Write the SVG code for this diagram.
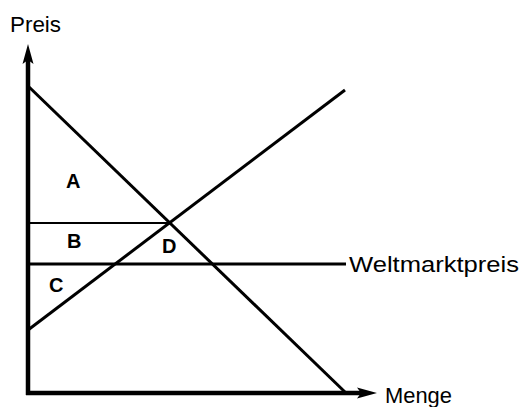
<svg xmlns="http://www.w3.org/2000/svg" width="521" height="407" viewBox="0 0 521 407">
<style>
.lbl{font-family:"Liberation Sans",Arial,sans-serif;font-size:22px;fill:#000}
.reg{font-family:"Liberation Sans",Arial,sans-serif;font-size:20px;font-weight:bold;fill:#000}
.ax{stroke:#000;stroke-width:4.5;fill:none}
.ln{stroke:#000;stroke-width:3;fill:none}
.ah{fill:#000}
</style>
<rect width="521" height="407" fill="#fff"/>
<g id="connectors">
<line class="ax" x1="28" y1="395" x2="28" y2="58"/>
<polygon class="ah" points="28,44 33.5,64 28,60 22.5,64"/>
<line class="ax" x1="26" y1="393" x2="362" y2="393"/>
<polygon class="ah" points="377,393 357,387.5 361,393 357,398.5"/>
<line class="ln" x1="28" y1="86" x2="345" y2="392"/>
<line class="ln" x1="28" y1="330" x2="345" y2="90"/>
<line stroke="#000" stroke-width="2" x1="28" y1="223" x2="171" y2="223"/>
<line class="ln" x1="28" y1="264" x2="346" y2="264"/>
</g>
<g id="axis-y"><text class="lbl" x="10" y="32" textLength="51" lengthAdjust="spacingAndGlyphs">Preis</text></g>
<g id="axis-x"><text class="lbl" x="385" y="403" textLength="67" lengthAdjust="spacingAndGlyphs">Menge</text></g>
<g id="weltmarkt"><text class="lbl" x="349" y="272" textLength="170" lengthAdjust="spacingAndGlyphs">Weltmarktpreis</text></g>
<g id="A"><text class="reg" x="66" y="188">A</text></g>
<g id="B"><text class="reg" x="67" y="248">B</text></g>
<g id="C"><text class="reg" x="49" y="292">C</text></g>
<g id="D"><text class="reg" x="162" y="253">D</text></g>
</svg>
